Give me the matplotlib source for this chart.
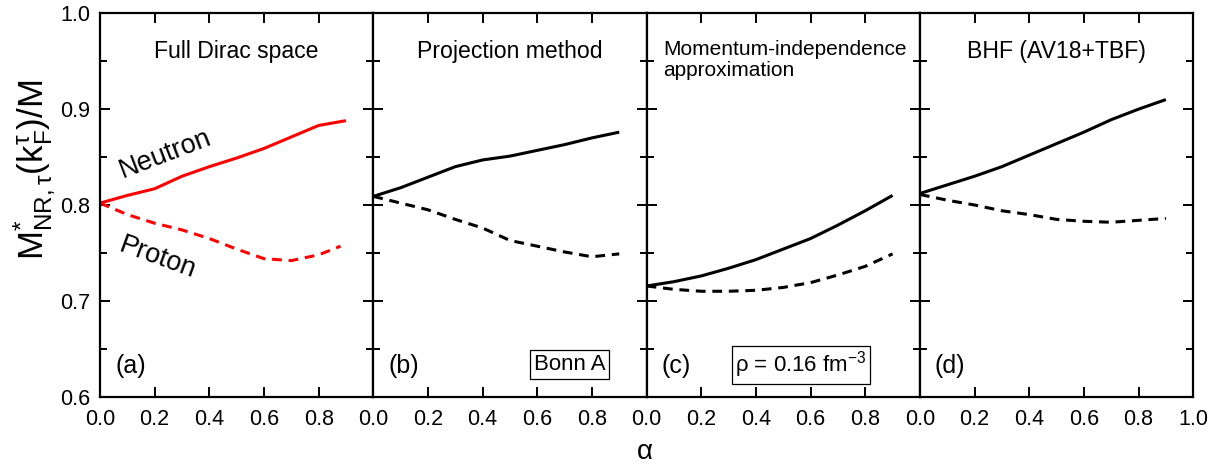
import matplotlib
matplotlib.use("Agg")
import matplotlib.pyplot as plt
from matplotlib.ticker import MultipleLocator, FixedLocator

plt.rcParams['font.family'] = ['Liberation Sans', 'DejaVu Sans']
plt.rcParams['mathtext.fontset'] = 'custom'
plt.rcParams['mathtext.rm'] = 'Liberation Sans'
plt.rcParams['mathtext.it'] = 'Liberation Sans:italic'
plt.rcParams['mathtext.bf'] = 'Liberation Sans:bold'

alpha = [0.0, 0.1, 0.2, 0.3, 0.4, 0.5, 0.6, 0.7, 0.8, 0.9]

# (a) Full Dirac space
a_neutron = [0.802, 0.810, 0.817, 0.830, 0.840, 0.849, 0.859, 0.871, 0.883, 0.888]
a_proton_alpha = [0.0, 0.1, 0.2, 0.3, 0.4, 0.5, 0.6, 0.7, 0.8, 0.88]
a_proton = [0.802, 0.790, 0.781, 0.774, 0.765, 0.754, 0.744, 0.742, 0.748, 0.757]
# (b) Projection method
b_neutron = [0.809, 0.818, 0.829, 0.840, 0.847, 0.851, 0.857, 0.863, 0.870, 0.876]
b_proton = [0.809, 0.802, 0.795, 0.785, 0.776, 0.763, 0.757, 0.751, 0.746, 0.749]
# (c) Momentum-independence approximation
c_neutron = [0.7155, 0.720, 0.726, 0.734, 0.743, 0.754, 0.765, 0.779, 0.794, 0.810]
c_proton = [0.7155, 0.712, 0.710, 0.710, 0.711, 0.714, 0.719, 0.727, 0.736, 0.749]
# (d) BHF (AV18+TBF)
d_neutron = [0.812, 0.821, 0.830, 0.840, 0.852, 0.864, 0.876, 0.889, 0.900, 0.910]
d_proton = [0.811, 0.805, 0.800, 0.794, 0.790, 0.785, 0.783, 0.782, 0.784, 0.786]

titles = ["Full Dirac space", "Projection method",
          "Momentum-independence\napproximation", "BHF (AV18+TBF)"]
panel_labels = ["(a)", "(b)", "(c)", "(d)"]
x_ticks = [0.0, 0.2, 0.4, 0.6, 0.8, 1.0]
x_ticklabels = ["0.0", "0.2", "0.4", "0.6", "0.8", "1.0"]
y_ticks = [0.6, 0.7, 0.8, 0.9, 1.0]
y_ticklabels = ["0.6", "0.7", "0.8", "0.9", "1.0"]

W, H = 1221, 466
fig = plt.figure(figsize=(W / 100, H / 100), dpi=100)

left0 = 100 / W
pw = 273.3 / W
bottom = (H - 396.7) / H
ph = (396.7 - 13.3) / H

series = [
    (alpha, a_neutron, a_proton_alpha, a_proton, 'red'),
    (alpha, b_neutron, alpha, b_proton, 'black'),
    (alpha, c_neutron, alpha, c_proton, 'black'),
    (alpha, d_neutron, alpha, d_proton, 'black'),
]

axes = []
for i in range(4):
    ax = fig.add_axes([left0 + i * pw, bottom, pw, ph])
    axes.append(ax)
    xn, yn, xp, yp, col = series[i]
    ax.plot(xn, yn, color=col, lw=2.2, solid_capstyle='butt')
    ax.plot(xp, yp, color=col, lw=2.2, dashes=(3.2, 2.2))
    ax.set_xlim(0, 1.0)
    ax.set_ylim(0.6, 1.0)
    ax.xaxis.set_major_locator(FixedLocator(x_ticks))
    ax.yaxis.set_major_locator(FixedLocator(y_ticks))
    ax.yaxis.set_minor_locator(MultipleLocator(0.05))
    ax.tick_params(which='both', direction='in', top=True, right=True,
                   width=1.4, labelsize=15.5)
    ax.tick_params(axis='x', pad=9)
    ax.tick_params(axis='y', pad=7)
    ax.tick_params(which='major', length=7.5)
    ax.tick_params(which='minor', length=5)
    for s in ax.spines.values():
        s.set_linewidth(1.6)
    if i < 3:
        ax.set_xticklabels(x_ticklabels[:-1] + [""])
    else:
        ax.set_xticklabels(x_ticklabels)
    if i == 0:
        ax.set_yticklabels(y_ticklabels)
    else:
        ax.set_yticklabels([])
    if i == 2:
        ax.text(0.06, 0.93, titles[i], transform=ax.transAxes, fontsize=15,
                ha='left', va='top', linespacing=1.15)
    else:
        ax.text(0.5, 0.90, titles[i], transform=ax.transAxes, fontsize=16.6,
                ha='center', va='center')
    ax.text(0.055, 0.08, panel_labels[i], transform=ax.transAxes, fontsize=18,
            ha='left', va='center')

axes[0].text(0.24, 0.853, "Neutron", fontsize=19.5, rotation=21,
             ha='center', va='center')
axes[0].text(0.21, 0.745, "Proton", fontsize=19.5, rotation=-20,
             ha='center', va='center')

axes[1].text(0.718, 0.083, "Bonn A", transform=axes[1].transAxes, fontsize=16,
             ha='center', va='center',
             bbox=dict(boxstyle='square,pad=0.18', fc='white', ec='black', lw=0.9))
axes[2].text(0.565, 0.083, "ρ = 0.16 fm$^{-3}$", transform=axes[2].transAxes,
             fontsize=16, ha='center', va='center',
             bbox=dict(boxstyle='square,pad=0.15', fc='white', ec='black', lw=0.9))

fig.text(35 / W, 1 - 170 / H,
         r"$\mathrm{M}^{*}_{\mathrm{NR,τ}}(\mathrm{k}^{\mathrm{τ}}_{\mathrm{F}})/\mathrm{M}$",
         rotation=90, fontsize=25, ha='center', va='center')
fig.text(645 / W, 1 - 452 / H, "α", fontsize=20, ha='center', va='center')

fig.savefig("out.png", dpi=100)
